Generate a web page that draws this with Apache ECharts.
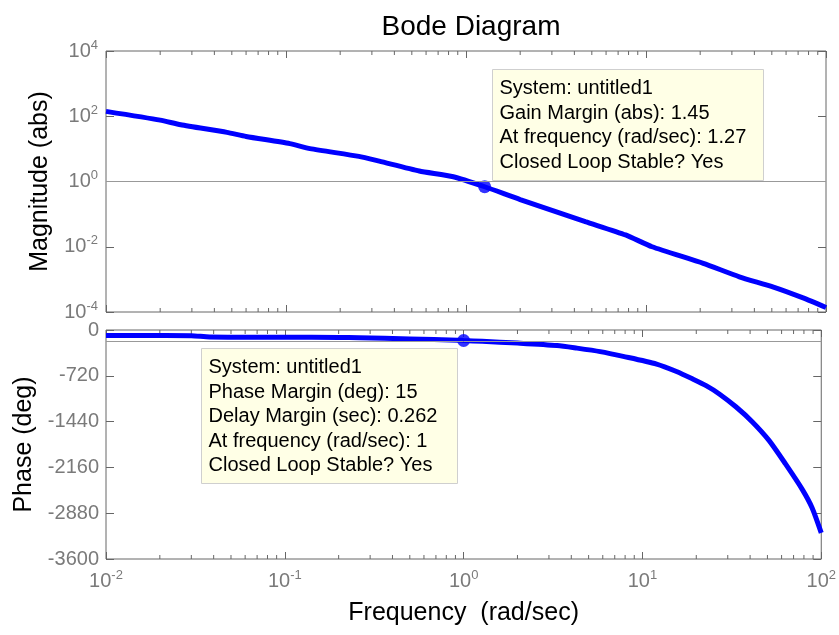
<!DOCTYPE html>
<html>
<head>
<meta charset="utf-8">
<script src="https://cdn.jsdelivr.net/npm/echarts@6/dist/echarts.min.js"></script>
<style>html,body{margin:0;background:#fff}#main{width:839px;height:635px}</style>
</head>
<body>
<div id="main"></div>
<script>
// magnitude curve (abs)
var magFreq = [0.01, 0.02, 0.026, 0.047, 0.06, 0.105, 0.136, 0.254, 0.33, 0.55, 0.85, 1.27, 2, 4.6, 7.7, 10.8, 20.8, 33, 50.6, 74.6, 100];
var magValue = [141, 76, 55, 32, 24, 14.5, 10.2, 5.9, 4.2, 2.1, 1.4, 0.69, 0.28, 0.059, 0.023, 0.01, 0.0031, 0.0012, 0.00059, 0.00027, 0.000138];
// phase curve (deg)
var phaseFreq = [0.01, 0.02, 0.03, 0.038, 0.06, 0.1, 0.2, 0.26, 0.5, 0.93, 1, 1.27, 2, 3.33, 4.3, 5.8, 7.8, 12, 15.5, 19.1, 22.7, 26.9, 33.3, 41.2, 51, 63.1, 78.1, 88.8, 100];
var phaseValue = [-86, -87, -90, -110, -113, -114, -118, -122, -140, -160, -165, -178, -205, -244, -285, -340, -414, -535, -652, -770, -875, -1005, -1207, -1445, -1735, -2105, -2501, -2793, -3190];
var gainMarker = [1.27, 0.69];
var phaseMarker = [1, -165];
var phaseRef = -180;
var minorFreq = [0.02, 0.03, 0.04, 0.05, 0.06, 0.07, 0.08, 0.09,
                 0.2, 0.3, 0.4, 0.5, 0.6, 0.7, 0.8, 0.9,
                 2, 3, 4, 5, 6, 7, 8, 9,
                 20, 30, 40, 50, 60, 70, 80, 90];
var gainTip = ['System: untitled1', 'Gain Margin (abs): 1.45', 'At frequency (rad/sec): 1.27', 'Closed Loop Stable? Yes'];
var phaseTip = ['System: untitled1', 'Phase Margin (deg): 15', 'Delay Margin (sec): 0.262', 'At frequency (rad/sec): 1', 'Closed Loop Stable? Yes'];

var FONT = '"Liberation Sans", Arial, sans-serif';
var labelGray = '#7a7a7a';
var frame = '#666';

var myChart = echarts.init(document.getElementById('main'));

function powLabel(e) {
    return '10{sup|' + e + '}';
}
var supRich = {sup: {fontSize: 13, color: labelGray, fontFamily: FONT, padding: [0, 0, 12, 0]}};

function xAxisOf(grid, pos, labels) {
    return {
        type: 'log', gridIndex: grid, position: pos, min: 0.01, max: 100, logBase: 10,
        axisLine: {show: false, onZero: false},
        axisTick: {show: true, inside: true, length: 7, lineStyle: {color: frame}},
        splitLine: {show: false},
        axisLabel: {
            show: labels, margin: 10, fontSize: 20, color: labelGray, fontFamily: FONT,
            formatter: function (v) { return powLabel(Math.round(Math.log10(v))); },
            rich: supRich
        },
        name: labels ? 'Frequency  (rad/sec)' : '',
        nameLocation: 'middle', nameGap: 42,
        nameTextStyle: {fontSize: 25, color: '#000', fontFamily: FONT}
    };
}

function minorTicks(idx) {
    var yMin = idx === 0 ? -4 : -3600;
    var yMax = idx === 0 ? 4 : 0;
    return {
        type: 'custom', xAxisIndex: idx * 2, yAxisIndex: idx * 2, silent: true, z: 1,
        data: minorFreq.map(function (f) { return [f, yMin]; }),
        renderItem: function (params, api) {
            var b = api.coord([api.value(0), yMin]);
            var t = api.coord([api.value(0), yMax]);
            var st = {stroke: frame, lineWidth: 1};
            return {type: 'group', children: [
                {type: 'line', shape: {x1: b[0], y1: b[1], x2: b[0], y2: b[1] - 4}, style: st},
                {type: 'line', shape: {x1: t[0], y1: t[1], x2: t[0], y2: t[1] + 4}, style: st}
            ]};
        }
    };
}

function tipBox(x, y, w, h, lines) {
    return {
        type: 'group', left: x, top: y, z: 10,
        children: [
            {type: 'rect', shape: {x: 0, y: 0, width: w, height: h}, style: {fill: '#ffffe6', stroke: '#cfcfcf', lineWidth: 1}},
            {type: 'text', x: 7, y: 7, style: {text: lines.join('\n'), font: '20px ' + FONT, lineHeight: 24.5, fill: '#000'}}
        ]
    };
}

var option = {
    animation: false,
    title: {
        text: 'Bode Diagram', left: 466, top: 8, textAlign: 'center',
        textStyle: {fontSize: 28, fontWeight: 'normal', color: '#000', fontFamily: FONT}
    },
    grid: [
        {left: 106, top: 51, width: 720, height: 261, show: true, borderColor: frame, borderWidth: 1},
        {left: 106, top: 330, width: 720, height: 229, show: true, borderColor: frame, borderWidth: 1}
    ],
    xAxis: [
        xAxisOf(0, 'bottom', false),
        xAxisOf(0, 'top', false),
        xAxisOf(1, 'bottom', true),
        xAxisOf(1, 'top', false)
    ],
    yAxis: [
        {
            type: 'value', gridIndex: 0, min: -4, max: 4, interval: 2,
            axisLine: {show: false, onZero: false}, splitLine: {show: false},
            axisTick: {inside: true, length: 8, lineStyle: {color: frame}},
            axisLabel: {margin: 8, fontSize: 20, color: labelGray, fontFamily: FONT, formatter: powLabel, rich: supRich},
            name: 'Magnitude (abs)', nameLocation: 'middle', nameGap: 53,
            nameTextStyle: {fontSize: 25, color: '#000', fontFamily: FONT}
        },
        {
            type: 'value', gridIndex: 0, position: 'right', min: -4, max: 4, interval: 2,
            axisLine: {show: false, onZero: false}, splitLine: {show: false}, axisLabel: {show: false},
            axisTick: {inside: true, length: 8, lineStyle: {color: frame}}
        },
        {
            type: 'value', gridIndex: 1, min: -3600, max: 0, interval: 720,
            axisLine: {show: false, onZero: false}, splitLine: {show: false},
            axisTick: {inside: true, length: 8, lineStyle: {color: frame}},
            axisLabel: {margin: 7, fontSize: 20, color: labelGray, fontFamily: FONT,
                formatter: function (v) { return String(v); }},
            name: 'Phase (deg)', nameLocation: 'middle', nameGap: 66,
            nameTextStyle: {fontSize: 25, color: '#000', fontFamily: FONT}
        },
        {
            type: 'value', gridIndex: 1, position: 'right', min: -3600, max: 0, interval: 720,
            axisLine: {show: false, onZero: false}, splitLine: {show: false}, axisLabel: {show: false},
            axisTick: {inside: true, length: 8, lineStyle: {color: frame}}
        }
    ],
    series: [
        {
            type: 'line', xAxisIndex: 0, yAxisIndex: 0, symbol: 'none', smooth: 0.2,
            lineStyle: {color: '#0000ff', width: 5},
            data: magFreq.map(function (f, i) { return [f, Math.log10(magValue[i])]; }),
            markLine: {
                silent: true, symbol: 'none', label: {show: false},
                lineStyle: {color: '#999', type: 'solid', width: 1},
                data: [{yAxis: 0}]
            },
            z: 3
        },
        {
            type: 'scatter', xAxisIndex: 0, yAxisIndex: 0, symbolSize: 13,
            itemStyle: {color: '#0000ff'},
            data: [[gainMarker[0], Math.log10(gainMarker[1])]], z: 4
        },
        {
            type: 'line', xAxisIndex: 2, yAxisIndex: 2, symbol: 'none', smooth: 0.25,
            lineStyle: {color: '#0000ff', width: 5},
            data: phaseFreq.map(function (f, i) { return [f, phaseValue[i]]; }),
            markLine: {
                silent: true, symbol: 'none', label: {show: false},
                lineStyle: {color: '#999', type: 'solid', width: 1},
                data: [{yAxis: phaseRef}]
            },
            z: 3
        },
        {
            type: 'scatter', xAxisIndex: 2, yAxisIndex: 2, symbolSize: 13,
            itemStyle: {color: '#0000ff'},
            data: [phaseMarker], z: 4
        },
        minorTicks(0),
        minorTicks(1)
    ],
    graphic: [
        tipBox(492, 69, 271, 111, gainTip),
        tipBox(201, 348, 256, 135, phaseTip)
    ]
};
myChart.setOption(option);
</script>
</body>
</html>
